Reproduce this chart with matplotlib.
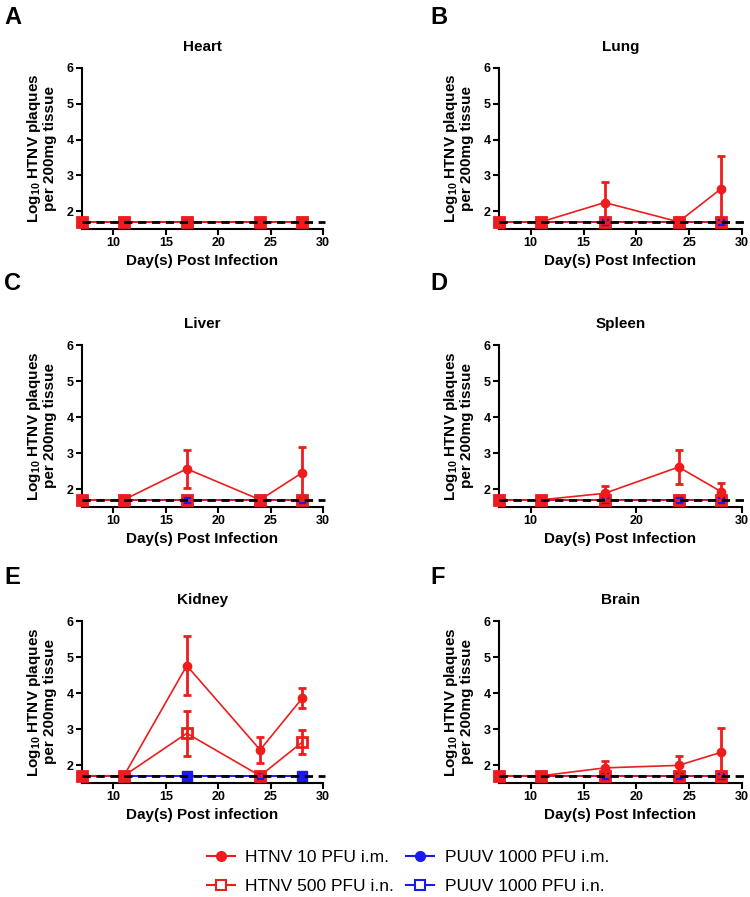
import numpy as np
import matplotlib
matplotlib.use("Agg")
import matplotlib.pyplot as plt
from matplotlib.lines import Line2D

plt.rcParams['font.family'] = ['Liberation Sans', 'DejaVu Sans']
plt.rcParams['mathtext.fontset'] = 'custom'
plt.rcParams['mathtext.rm'] = 'Liberation Sans'
plt.rcParams['mathtext.bf'] = 'Liberation Sans:bold'

days = [7, 11, 17, 24, 28]
lod = 1.7

# mean and SD per tissue (HTNV 10 PFU i.m. / HTNV 500 PFU i.n.)
heart_im = [1.7, 1.7, 1.7, 1.7, 1.7]
heart_im_sd = [0, 0, 0, 0, 0]
heart_in = [1.7, 1.7, 1.7, 1.7, 1.7]
heart_in_sd = [0, 0, 0, 0, 0]

lung_im = [1.7, 1.7, 2.24, 1.7, 2.62]
lung_im_sd = [0, 0, 0.56, 0, 0.93]
lung_in = [1.7, 1.7, 1.7, 1.7, 1.7]
lung_in_sd = [0, 0, 0, 0, 0]

liver_im = [1.7, 1.7, 2.56, 1.7, 2.45]
liver_im_sd = [0, 0, 0.52, 0, 0.71]
liver_in = [1.7, 1.7, 1.7, 1.7, 1.7]
liver_in_sd = [0, 0, 0, 0, 0]

spleen_im = [1.7, 1.7, 1.88, 2.61, 1.93]
spleen_im_sd = [0, 0, 0.2, 0.47, 0.24]
spleen_in = [1.7, 1.7, 1.7, 1.7, 1.7]
spleen_in_sd = [0, 0, 0, 0, 0]

kidney_im = [1.7, 1.7, 4.76, 2.42, 3.85]
kidney_im_sd = [0, 0, 0.82, 0.36, 0.28]
kidney_in = [1.7, 1.7, 2.88, 1.7, 2.63]
kidney_in_sd = [0, 0, 0.63, 0, 0.33]

brain_im = [1.7, 1.7, 1.92, 1.99, 2.35]
brain_im_sd = [0, 0, 0.2, 0.27, 0.67]
brain_in = [1.7, 1.7, 1.7, 1.7, 1.7]
brain_in_sd = [0, 0, 0, 0, 0]

puuv_im = [1.7, 1.7, 1.7, 1.7, 1.7]
puuv_in = [1.7, 1.7, 1.7, 1.7, 1.7]

titles = ['Heart', 'Lung', 'Liver', 'Spleen', 'Kidney', 'Brain']
letters = ['A', 'B', 'C', 'D', 'E', 'F']
im_data = [(heart_im, heart_im_sd), (lung_im, lung_im_sd), (liver_im, liver_im_sd),
           (spleen_im, spleen_im_sd), (kidney_im, kidney_im_sd), (brain_im, brain_im_sd)]
in_data = [(heart_in, heart_in_sd), (lung_in, lung_in_sd), (liver_in, liver_in_sd),
           (spleen_in, spleen_in_sd), (kidney_in, kidney_in_sd), (brain_in, brain_in_sd)]
xlabels = ['Day(s) Post Infection'] * 4 + ['Day(s) Post infection', 'Day(s) Post Infection']
xticksets = [[10, 15, 20, 25, 30], [10, 15, 20, 25, 30], [10, 15, 20, 25, 30],
             [10, 20, 30], [10, 15, 20, 25, 30], [10, 15, 20, 25, 30]]

red = '#ee1c1c'
blue = '#1a1aee'

W, H = 750, 897
fig = plt.figure(figsize=(W / 100, H / 100), dpi=100)

col_x = [(82, 323), (499, 742)]
row_y = [(68, 229), (345, 507), (621, 783)]

for i in range(6):
    r, c = i // 2, i % 2
    x0, x1 = col_x[c]
    y0, y1 = row_y[r]
    ax = fig.add_axes([x0 / W, 1 - y1 / H, (x1 - x0) / W, (y1 - y0) / H])

    # PUUV groups (underneath)
    ax.plot(days, puuv_im, color=blue, marker='o', ms=6, lw=1.2, zorder=2, clip_on=False)
    ax.plot(days, puuv_in, color=blue, marker='s', ms=7, lw=1.2, zorder=2, clip_on=False)

    m, sd = in_data[i]
    eb = ax.errorbar(days, m, yerr=sd, color=red, marker='s', ms=7, mfc='none', mew=2,
                     lw=1.2, elinewidth=2, capsize=3, capthick=2, zorder=3)
    eb[0].set_clip_on(False)
    m, sd = im_data[i]
    eb = ax.errorbar(days, m, yerr=sd, color=red, marker='o', ms=6, lw=1.2,
                     elinewidth=2, capsize=3, capthick=2, zorder=4)
    eb[0].set_clip_on(False)

    ax.plot([7, 30.2], [lod, lod], color='black', ls=(0, (3, 2)), lw=2, zorder=5,
            clip_on=False)

    ax.set_xlim(7, 30)
    ax.set_ylim(1.5, 6)
    ax.set_yticks([2, 3, 4, 5, 6])
    ax.set_xticks(xticksets[i])
    for s in ['top', 'right']:
        ax.spines[s].set_visible(False)
    for s in ['left', 'bottom']:
        ax.spines[s].set_linewidth(1.5)
    ax.tick_params(width=1.5, length=4, labelsize=9, pad=2)
    for lab in ax.get_xticklabels() + ax.get_yticklabels():
        lab.set_fontweight('bold')

    ax.set_title(titles[i], fontsize=11, fontweight='bold', pad=12)
    ax.set_xlabel(xlabels[i], fontsize=11, fontweight='bold', labelpad=3)
    ax.set_ylabel(r'Log$_{\mathbf{10}}$ HTNV plaques' + '\nper 200mg tissue',
                  fontsize=11, fontweight='bold', labelpad=7, linespacing=1.0)

    lx = 4 if c == 0 else 430
    ly = [17, 283, 577][r]
    fig.text(lx / W, 1 - ly / H, letters[i], fontsize=17, fontweight='bold',
             va='center', ha='left')

handles = [
    Line2D([], [], color=red, marker='o', ms=7, lw=1.5),
    Line2D([], [], color=red, marker='s', ms=7, mfc='white', mew=1.5, lw=1.5),
    Line2D([], [], color=blue, marker='o', ms=7, lw=1.5),
    Line2D([], [], color=blue, marker='s', ms=7, mfc='white', mew=1.5, lw=1.5),
]
names = ['HTNV 10 PFU i.m.', 'HTNV 500 PFU i.n.', 'PUUV 1000 PFU i.m.', 'PUUV 1000 PFU i.n.']
fig.legend(handles, names, ncol=2, loc='center', bbox_to_anchor=(408 / W, 1 - 872 / H),
           frameon=False, fontsize=12.5, handlelength=1.6, handletextpad=0.6,
           columnspacing=0.7, labelspacing=0.8, borderpad=0)

fig.savefig('out.png', dpi=100)
